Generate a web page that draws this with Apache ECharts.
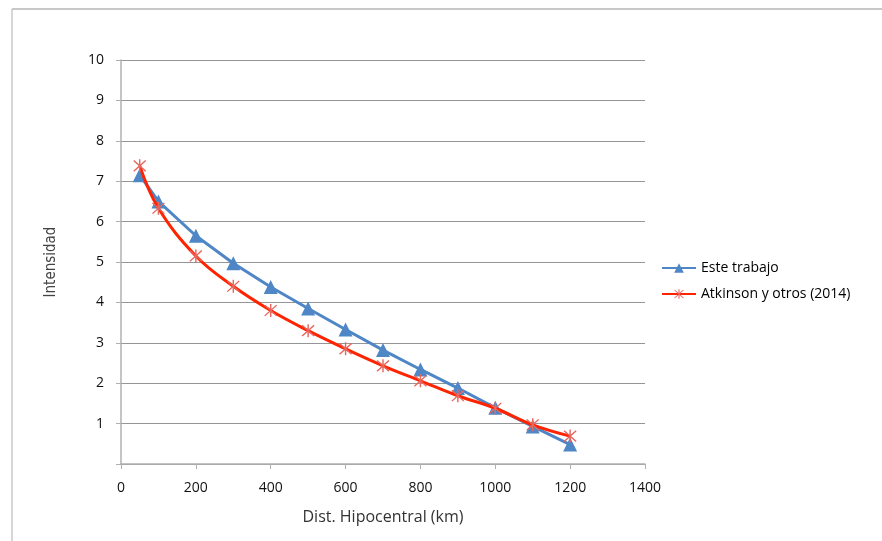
<!DOCTYPE html>
<html>
<head>
<meta charset="utf-8">
<script src="https://cdn.jsdelivr.net/npm/echarts@6/dist/echarts.min.js"></script>
<style>
  html, body { margin: 0; padding: 0; background: #fff; }
  #chart { width: 882px; height: 541px; }
</style>
</head>
<body>
<div id="chart"></div>
<script>
// distancias hipocentrales (km)
const distancias = [50, 100, 200, 300, 400, 500, 600, 700, 800, 900, 1000, 1100, 1200]
// intensidad - este trabajo
const esteTrabajo = [7.15, 6.5, 5.65, 4.97, 4.38, 3.85, 3.33, 2.82, 2.34, 1.88, 1.39, 0.93, 0.48]
// intensidad - Atkinson y otros (2014)
const atkinson = [7.38, 6.33, 5.15, 4.4, 3.8, 3.3, 2.85, 2.43, 2.06, 1.69, 1.38, 0.97, 0.69]

const nombres = ['Este trabajo', 'Atkinson y otros (2014)']

// asterisco como path relleno (tres barras)
const asterisco = 'path://M9,0L11,0L11,20L9,20Z M1,2.4L2.4,1L19,17.6L17.6,19Z M17.6,1L19,2.4L2.4,19L1,17.6Z'

const toPairs = (xs, ys) => xs.map((x, i) => [x, ys[i]])

const font = '"Open Sans", "Liberation Sans", sans-serif'

const chart = echarts.init(document.getElementById('chart'))
chart.setOption({
  backgroundColor: '#fff',
  animation: false,
  textStyle: { fontFamily: font },
  graphic: [
    // marco del grafico (solo borde superior e izquierdo visibles)
    { type: 'line', shape: { x1: 12, y1: 9, x2: 882, y2: 9 }, style: { stroke: '#c8c8c8', lineWidth: 2 } },
    { type: 'line', shape: { x1: 12, y1: 9, x2: 12, y2: 541 }, style: { stroke: '#c8c8c8', lineWidth: 1.5 } }
  ],
  grid: { left: 121, right: 237, top: 60, bottom: 77 },
  legend: {
    orient: 'vertical',
    left: 656,
    top: 256,
    itemGap: 12,
    itemWidth: 34,
    itemHeight: 12,
    textStyle: { fontSize: 14, color: '#000', fontFamily: font },
    data: nombres
  },
  xAxis: {
    type: 'value',
    min: 0,
    max: 1400,
    interval: 200,
    name: 'Dist. Hipocentral (km)',
    nameLocation: 'middle',
    nameGap: 45,
    nameTextStyle: { fontSize: 16, color: '#333', fontFamily: font },
    axisLine: { show: true, lineStyle: { color: '#b0b0b0', width: 1.5 } },
    axisTick: { show: true, length: 5, lineStyle: { color: '#b0b0b0' } },
    axisLabel: { fontSize: 14, color: '#111', margin: 17, formatter: v => String(v) },
    splitLine: { show: false }
  },
  yAxis: {
    type: 'value',
    min: 0,
    max: 10,
    interval: 1,
    name: 'Intensidad',
    nameLocation: 'middle',
    nameGap: 62,
    nameRotate: 90,
    nameTextStyle: { fontSize: 15, color: '#444', fontFamily: '"Liberation Sans Narrow", "DejaVu Sans Condensed", sans-serif' },
    axisLine: { show: true, lineStyle: { color: '#b0b0b0', width: 1.5 } },
    axisTick: { show: true, length: 5, lineStyle: { color: '#b0b0b0' } },
    axisLabel: {
      fontSize: 14,
      color: '#111',
      margin: 17,
      formatter: v => (v === 0 ? '' : String(v))
    },
    splitLine: { show: true, lineStyle: { color: '#959595', width: 1 } }
  },
  series: [
    {
      name: nombres[0],
      type: 'line',
      data: toPairs(distancias, esteTrabajo),
      symbol: 'triangle',
      symbolSize: 14,
      lineStyle: { color: '#4f86c6', width: 3 },
      itemStyle: { color: '#4f86c6' },
      z: 2
    },
    {
      name: nombres[1],
      type: 'line',
      data: toPairs(distancias, atkinson),
      smooth: 0.4,
      symbol: asterisco,
      symbolSize: 13,
      lineStyle: { color: '#ff2400', width: 3 },
      itemStyle: { color: '#e8675f' },
      z: 3
    }
  ]
})
</script>
</body>
</html>
